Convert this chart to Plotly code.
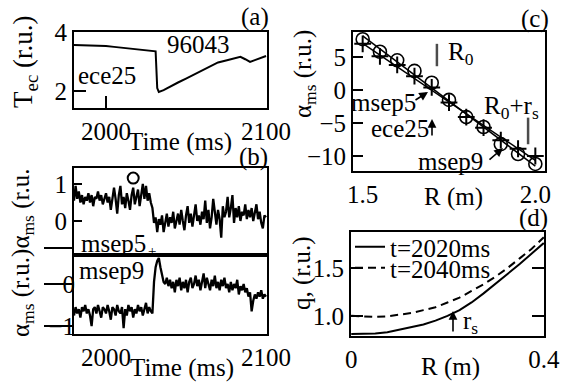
import numpy as np
import plotly.graph_objects as go

W, H = 563, 382
FONT = "Liberation Serif"

# ---------------- data ----------------
# (a) ECE channel 25 electron temperature
time_a = [1980, 1990, 2000, 2005, 2010, 2015, 2020, 2025, 2030, 2031, 2032, 2033,
          2036, 2040, 2045, 2050, 2055, 2060, 2065, 2070, 2075, 2080, 2084, 2087,
          2090, 2093, 2097, 2100]
tec_ece25 = [3.56, 3.55, 3.53, 3.50, 3.47, 3.45, 3.42, 3.40, 3.37, 3.35, 2.10, 1.97,
             2.03, 2.15, 2.29, 2.42, 2.56, 2.69, 2.83, 2.97, 3.04, 3.10, 3.16, 3.08,
             2.99, 3.05, 3.12, 3.19]

# (b) MSE pitch angles
time_b = list(range(1980, 2101))
alpha_msep5 = [
    0.55, 0.95, 0.60, 0.80, 0.50, 0.70, 0.45, 0.65, 0.55, 0.75,
    0.50, 0.70, 0.40, 0.65, 0.60, 0.80, 0.55, 0.70, 0.45, 0.60,
    0.75, 0.50, 0.65, 0.30, 0.55, 0.90, 0.60, 0.20, 0.70, 0.95,
    0.45, 0.65, 0.35, 0.75, 0.55, 0.30, 0.70, 0.90, 0.45, 0.65,
    0.85, 0.40, 0.75, 1.00, 0.60, 0.95, 0.55, 0.75, 0.50, 0.35,
    -0.05, 0.10, -0.30, 0.05, -0.10, 0.15, -0.30, 0.00, 0.20, -0.15,
    0.10, -0.05, 0.25, -0.20, 0.05, 0.20, -0.10, 0.30, 0.00, -0.25,
    0.15, 0.40, -0.05, 0.20, -0.15, 0.10, 0.45, 0.00, 0.15, -0.10,
    0.25, 0.05, 0.55, -0.05, 0.30, -0.20, 0.10, 0.60, 0.15, -0.10,
    0.30, 0.05, -0.45, 0.40, 0.10, 0.25, 0.65, 0.10, 0.35, 0.70,
    -0.05, 0.35, 0.10, 0.40, 0.00, 0.25, 0.15, 0.45, 0.05, 0.30,
    0.10, 0.35, 0.00, 0.20, 0.45, 0.05, 0.25, -0.05, -0.20, 0.15,
    0.10]
alpha_msep9 = [
    -0.75, -0.55, -0.70, -0.60, -0.80, -0.55, -0.65, -0.50, -0.70, -0.60,
    -0.75, -1.00, -0.60, -0.55, -0.70, -0.50, -0.65, -0.80, -0.55, -0.60,
    -0.70, -0.50, -0.65, -0.85, -0.55, -0.60, -0.75, -0.50, -0.65, -0.70,
    -0.55, -1.05, -0.60, -0.75, -0.50, -0.65, -0.55, -0.80, -0.60, -0.70,
    -0.50, -0.65, -0.55, -0.75, -0.60, -0.45, -0.70, -0.55, -0.65, -0.70,
    0.05, 0.40, 0.55, 0.62, 0.40, 0.20, 0.05, 0.00, 0.15, -0.05,
    0.10, -0.10, 0.05, -0.20, 0.10, -0.05, 0.15, -0.15, 0.05, -0.10,
    0.10, -0.20, 0.05, 0.15, -0.10, 0.00, 0.20, -0.05, 0.10, -0.15,
    0.05, 0.25, -0.10, 0.15, 0.00, -0.15, 0.10, -0.05, 0.20, -0.10,
    0.05, -0.15, 0.10, -0.05, 0.15, -0.10, 0.00, -0.20, 0.05, -0.15,
    0.00, -0.10, 0.10, -0.25, -0.05, -0.15, 0.00, -0.20, -0.10, -0.30,
    -0.20, -0.65, -0.40, -0.25, -0.35, -0.20, -0.30, -0.15, -0.35, -0.25,
    -0.30]
mark_time_b = [2017]
mark_alpha_b = [1.16]

# (c) pitch-angle profile
R_c = [1.50, 1.55, 1.60, 1.65, 1.70, 1.75, 1.80, 1.85, 1.90, 1.95, 2.00]
alpha_circles = [7.7, 5.8, 4.5, 2.9, 1.1, -1.5, -4.1, -5.6, -8.2, -9.7, -11.2]
alpha_plus = [7.0, 5.1, 3.8, 2.1, 0.4, -1.9, -4.1, -5.7, -7.6, -8.9, -10.0]
R_marks = [1.715, 1.979]          # R0 and R0+rs
alpha_marks = [5.3, -6.2]

# (d) safety factor profiles
R_d = [0, 0.025, 0.05, 0.075, 0.1, 0.125, 0.15, 0.175, 0.2, 0.225, 0.25,
       0.275, 0.3, 0.325, 0.35, 0.375, 0.4]
q_2020 = [0.81, 0.81, 0.815, 0.83, 0.855, 0.88, 0.91, 0.95, 1.0, 1.06, 1.14,
          1.235, 1.335, 1.43, 1.54, 1.65, 1.76]
q_2040 = [1.0, 0.995, 0.99, 0.995, 1.01, 1.03, 1.06, 1.09, 1.14, 1.19, 1.26,
          1.33, 1.41, 1.50, 1.60, 1.70, 1.82]

# ---------------- figure ----------------
def dom_x(x0, x1):
    return [x0 / W, x1 / W]

def dom_y(y_top, y_bot):
    return [1 - y_bot / H, 1 - y_top / H]

tickfont = dict(family=FONT, size=25, color="black")
base = dict(showline=True, linecolor="black", linewidth=2, mirror=True,
            showgrid=False, zeroline=False, tickcolor="black", tickwidth=2,
            tickfont=tickfont, fixedrange=True, automargin=False)

fig = go.Figure()
line_k = dict(color="black", width=2)
line_noisy = dict(color="black", width=2.3)

fig.add_trace(go.Scatter(x=time_a, y=tec_ece25, mode="lines", line=line_k,
                         xaxis="x", yaxis="y", showlegend=False))
fig.add_trace(go.Scatter(x=time_b, y=alpha_msep5, mode="lines", line=line_noisy,
                         xaxis="x2", yaxis="y2", showlegend=False))
fig.add_trace(go.Scatter(x=mark_time_b, y=mark_alpha_b, mode="markers",
                         marker=dict(symbol="circle-open", size=11, color="black",
                                     line=dict(width=2)),
                         xaxis="x2", yaxis="y2", showlegend=False, cliponaxis=False))
fig.add_trace(go.Scatter(x=time_b, y=alpha_msep9, mode="lines", line=line_noisy,
                         xaxis="x3", yaxis="y3", showlegend=False))

# (c) fits + points
Rfit = np.array([min(R_c), max(R_c)])
for vals in (alpha_circles, alpha_plus):
    p = np.polyfit(R_c, vals, 1)
    fig.add_trace(go.Scatter(x=Rfit, y=np.polyval(p, Rfit), mode="lines",
                             line=dict(color="black", width=1.5),
                             xaxis="x4", yaxis="y4", showlegend=False))
fig.add_trace(go.Scatter(x=R_c, y=alpha_plus, mode="markers",
                         marker=dict(symbol="cross-thin-open", size=12, color="black",
                                     line=dict(width=2, color="black")),
                         xaxis="x4", yaxis="y4", showlegend=False, cliponaxis=False))
fig.add_trace(go.Scatter(x=R_c, y=alpha_circles, mode="markers",
                         marker=dict(symbol="circle-open", size=13, color="black",
                                     line=dict(width=1.6, color="black")),
                         xaxis="x4", yaxis="y4", showlegend=False, cliponaxis=False))
fig.add_trace(go.Scatter(x=R_marks, y=alpha_marks, mode="markers",
                         marker=dict(symbol="line-ns-open", size=[16, 19], color="black",
                                     line=dict(width=2.5, color="black")),
                         xaxis="x4", yaxis="y4", showlegend=False))

# (d)
fig.add_trace(go.Scatter(x=R_d, y=q_2020, mode="lines", name="t=2020ms",
                         line=dict(color="black", width=2),
                         xaxis="x5", yaxis="y5", legend="legend"))
fig.add_trace(go.Scatter(x=R_d, y=q_2040, mode="lines", name="t=2040ms",
                         line=dict(color="black", width=2, dash="8px,5px"),
                         xaxis="x5", yaxis="y5", legend="legend2"))

layout = dict(
    width=W, height=H, margin=dict(l=0, r=0, t=0, b=0, pad=0, autoexpand=False),
    paper_bgcolor="white", plot_bgcolor="white",
    font=dict(family=FONT, size=25, color="black"),
    # (a)
    xaxis=dict(base, domain=dom_x(74, 267), anchor="y", range=[1980, 2100.6],
               tickvals=[2000, 2100], ticks="inside", ticklen=12),
    yaxis=dict(base, domain=dom_y(32, 108), anchor="x", range=[1.424, 4.005],
               tickvals=[2, 4], ticks="inside", ticklen=12),
    # (b) top
    xaxis2=dict(base, domain=dom_x(74, 267), anchor="y2", range=[1980, 2100.6],
                showticklabels=False, ticks=""),
    yaxis2=dict(base, domain=dom_y(168, 255), anchor="x2", range=[-0.919, 1.432],
                tickvals=[0, 1], ticks="inside", ticklen=8,
                minor=dict(tickmode="array", tickvals=[-0.73], ticks="outside",
                           ticklen=28, tickwidth=1.5, tickcolor="black")),
    # (b) bottom
    xaxis3=dict(base, domain=dom_x(74, 267), anchor="y3", range=[1980, 2100.6],
                tickvals=[2000, 2100], ticks=""),
    yaxis3=dict(base, domain=dom_y(255, 334), anchor="x3", range=[-1.19, 0.69],
                tickvals=[0, -1], ticktext=["0", "\u22121"], ticks="outside",
                ticklen=28, tickwidth=1.5, ticklabelstandoff=-36),
    # (c)
    xaxis4=dict(base, domain=dom_x(353, 545), anchor="y4", range=[1.472, 2.028],
                tickvals=[1.5, 2.0], ticktext=["1.5", "2.0"], ticks=""),
    yaxis4=dict(base, domain=dom_y(32, 171), anchor="x4", range=[-12.27, 8.79],
                tickvals=[5, 0, -5, -10], ticktext=["5", "0", "\u22125", "\u221210"],
                ticks="inside", ticklen=10),
    # (d)
    xaxis5=dict(base, domain=dom_x(351, 544), anchor="y5", range=[-0.0005, 0.4005],
                tickvals=[0, 0.4], ticktext=["0", "0.4"], ticks=""),
    yaxis5=dict(base, domain=dom_y(232, 336), anchor="x5", range=[0.79, 1.875],
                tickvals=[1.0, 1.5], ticktext=["1.0", "1.5"], ticks="inside",
                ticklen=12, mirror="ticks"),
    legend=dict(x=350 / W, y=1 - 247 / H, xanchor="left", yanchor="middle",
                bgcolor="rgba(0,0,0,0)", borderwidth=0,
                font=dict(family=FONT, size=25, color="black")),
    legend2=dict(x=350 / W, y=1 - 268 / H, xanchor="left", yanchor="middle",
                 bgcolor="rgba(0,0,0,0)", borderwidth=0,
                 font=dict(family=FONT, size=25, color="black")),
)
fig.update_layout(**layout)

annotations = []


def text(s, x, y, size=25, angle=0):
    annotations.append(dict(text=s, x=x / W, y=1 - y / H, xref="paper", yref="paper",
                            xanchor="center", yanchor="middle", showarrow=False,
                            textangle=angle,
                            font=dict(family=FONT, size=size, color="black")))


def arrow(x0, y0, x1, y1):
    annotations.append(dict(text="", x=x1 / W, y=1 - y1 / H, xref="paper", yref="paper",
                            ax=x0 - x1, ay=y0 - y1, axref="pixel", ayref="pixel",
                            showarrow=True, arrowhead=2, arrowsize=1.1,
                            arrowwidth=1.6, arrowcolor="black"))


# (a)
text("(a)", 255, 17)
text("96043", 198, 45)
text("ece25", 107, 75)
text("Time (ms)", 180, 142)
text("T<sub>ec</sub> (r.u.)", 25, 62, size=27, angle=-90)
# (b)
text("(b)", 253, 157)
text("msep5", 113, 243)
text("+", 152, 251, size=15)
text("msep9", 111, 270)
text("Time (ms)", 182, 368)
text("\u03b1<sub>ms</sub> (r.u.)\u03b1<sub>ms</sub> (r.u.", 22, 253, angle=-90)
# (c)
text("(c)", 535, 19)
text("\u03b1<sub>ms</sub> (r.u.)", 304, 74, angle=-90)
text("R<sub>0</sub>", 461, 53)
text("R<sub>0</sub>+r<sub>s</sub>", 511, 108)
text("msep5", 383, 102)
arrow(414, 101, 428, 92)
text("ece25", 400, 128)
arrow(432, 137, 432, 119)
text("msep9", 450, 162)
arrow(488, 161, 503, 148)
text("R (m)", 453, 197)
# (d)
text("(d)", 533, 218)
text("q, (r.u.)", 302, 273, angle=-90)
text("R (m)", 450, 367)
text("r<sub>s</sub>", 470, 322)
arrow(453, 333, 453, 311)

fig.update_layout(annotations=annotations)
fig.write_html("out.html", config={"displayModeBar": False},
               post_script="document.body.style.margin='0px';document.body.style.overflow='hidden';")
